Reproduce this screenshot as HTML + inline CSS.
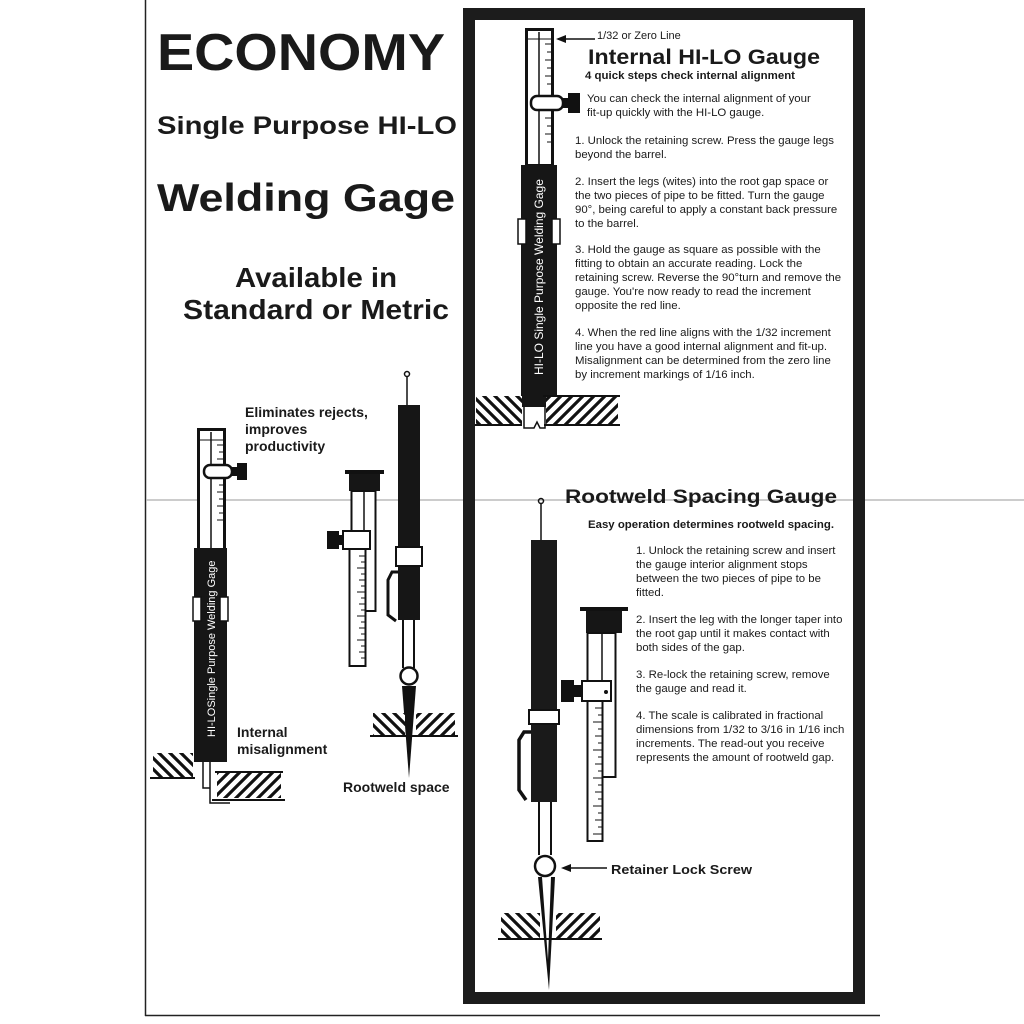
<!DOCTYPE html>
<html><head><style>
html,body{margin:0;padding:0;background:#fff}
svg{display:block}
text{font-family:"Liberation Sans",Arial,sans-serif;fill:#1a1a1a}
.b{font-weight:bold}
</style></head><body>
<svg width="1024" height="1024" viewBox="0 0 1024 1024" xmlns="http://www.w3.org/2000/svg">
<defs>
<pattern id="h1" width="11" height="11" patternUnits="userSpaceOnUse"><rect width="11" height="11" fill="#fff"/><path d="M-2,-2 L13,13 M-2,9 L2,13 M9,-2 L13,2" stroke="#111" stroke-width="3.2"/></pattern>
<pattern id="h2" width="11" height="11" patternUnits="userSpaceOnUse"><rect width="11" height="11" fill="#fff"/><path d="M-2,13 L13,-2 M-2,2 L2,-2 M9,13 L13,9" stroke="#111" stroke-width="3.2"/></pattern>
</defs>
<rect width="1024" height="1024" fill="#fff"/>
<line x1="145.5" y1="0" x2="145.5" y2="1016" stroke="#222" stroke-width="1.5"/>
<line x1="145" y1="1015.5" x2="880" y2="1015.5" stroke="#222" stroke-width="1.5"/>
<line x1="146" y1="500" x2="1024" y2="500" stroke="#bbb" stroke-width="1.5"/>
<rect x="469" y="14" width="390" height="984" fill="none" stroke="#1c1c1c" stroke-width="12"/>

<text x="157" y="70" font-size="52" class="b" textLength="288" lengthAdjust="spacingAndGlyphs">ECONOMY</text>
<text x="307" y="134" font-size="25" class="b" text-anchor="middle" textLength="300" lengthAdjust="spacingAndGlyphs">Single Purpose HI-LO</text>
<text x="306" y="211" font-size="39" class="b" text-anchor="middle" textLength="298" lengthAdjust="spacingAndGlyphs">Welding Gage</text>
<text x="316" y="287" font-size="28" class="b" text-anchor="middle" textLength="162" lengthAdjust="spacingAndGlyphs">Available in</text>
<text x="316" y="319" font-size="28" class="b" text-anchor="middle" textLength="266" lengthAdjust="spacingAndGlyphs">Standard or Metric</text>

<text x="245" y="417" font-size="14" class="b">Eliminates rejects,</text>
<text x="245" y="434" font-size="14" class="b">improves</text>
<text x="245" y="451" font-size="14" class="b">productivity</text>
<text x="237" y="737" font-size="14" class="b">Internal</text>
<text x="237" y="754" font-size="14" class="b">misalignment</text>
<text x="343" y="792" font-size="14" class="b">Rootweld space</text>

<rect x="198.5" y="429.5" width="26" height="120" fill="#fff" stroke="#111" stroke-width="3"/>
<line x1="211" y1="432" x2="211" y2="548" stroke="#111" stroke-width="1.5"/>
<line x1="200" y1="440" x2="223" y2="440" stroke="#111" stroke-width="1"/>
<g stroke="#111" stroke-width="1"><line x1="217" y1="445" x2="223" y2="445"/><line x1="219" y1="452" x2="223" y2="452"/><line x1="217" y1="459" x2="223" y2="459"/><line x1="219" y1="485" x2="223" y2="485"/><line x1="217" y1="492" x2="223" y2="492"/><line x1="219" y1="499" x2="223" y2="499"/><line x1="217" y1="506" x2="223" y2="506"/><line x1="219" y1="513" x2="223" y2="513"/><line x1="217" y1="520" x2="223" y2="520"/></g>
<rect x="204" y="465" width="28" height="13" rx="6" fill="#fff" stroke="#111" stroke-width="2.5"/>
<rect x="232" y="467" width="5" height="9" fill="#111"/>
<rect x="237" y="463" width="10" height="17" fill="#111"/>
<rect x="194" y="548" width="33" height="214" fill="#161616"/>
<rect x="193" y="597" width="8" height="24" fill="#fff" stroke="#111" stroke-width="1.5"/>
<rect x="220" y="597" width="8" height="24" fill="#fff" stroke="#111" stroke-width="1.5"/>
<text transform="translate(215,737) rotate(-90)" font-size="11" style="fill:#fff">HI-LOSingle Purpose Welding Gage</text>
<rect x="153" y="753" width="40" height="24" fill="url(#h1)"/>
<line x1="150" y1="778" x2="195" y2="778" stroke="#111" stroke-width="2"/>
<rect x="217" y="772" width="64" height="26" fill="url(#h2)"/>
<line x1="215" y1="772" x2="283" y2="772" stroke="#111" stroke-width="2"/>
<line x1="212" y1="800" x2="285" y2="800" stroke="#111" stroke-width="2"/>
<path d="M203 762 V788 H210 M210 762 V803 H230" fill="none" stroke="#111" stroke-width="1.5"/>

<rect x="345" y="470" width="39" height="4" fill="#111"/>
<rect x="349" y="474" width="31" height="17" fill="#161616"/>
<rect x="351.5" y="491" width="24" height="120" fill="#fff" stroke="#111" stroke-width="2"/>
<line x1="364" y1="491" x2="364" y2="610" stroke="#111" stroke-width="1.5"/>
<rect x="343" y="531" width="27" height="18" fill="#fff" stroke="#111" stroke-width="2"/>
<rect x="327" y="531" width="12" height="18" fill="#111"/><rect x="339" y="535" width="4" height="10" fill="#111"/>
<rect x="349.5" y="549" width="16" height="117" fill="#fff" stroke="#111" stroke-width="2"/>
<g stroke="#111" stroke-width="1"><line x1="359" y1="556" x2="365" y2="556"/><line x1="361" y1="562" x2="365" y2="562"/><line x1="357" y1="568" x2="365" y2="568"/><line x1="361" y1="574" x2="365" y2="574"/><line x1="359" y1="580" x2="365" y2="580"/><line x1="361" y1="586" x2="365" y2="586"/><line x1="357" y1="592" x2="365" y2="592"/><line x1="361" y1="598" x2="365" y2="598"/><line x1="359" y1="604" x2="365" y2="604"/><line x1="361" y1="610" x2="365" y2="610"/><line x1="357" y1="616" x2="365" y2="616"/><line x1="361" y1="622" x2="365" y2="622"/><line x1="359" y1="628" x2="365" y2="628"/><line x1="361" y1="634" x2="365" y2="634"/><line x1="357" y1="640" x2="365" y2="640"/><line x1="361" y1="646" x2="365" y2="646"/><line x1="359" y1="652" x2="365" y2="652"/><line x1="361" y1="658" x2="365" y2="658"/></g>

<line x1="407" y1="376" x2="407" y2="405" stroke="#111" stroke-width="1.5"/>
<circle cx="407" cy="374" r="2.5" fill="none" stroke="#111" stroke-width="1.5"/>
<rect x="398" y="405" width="22" height="215" fill="#161616"/>
<rect x="396" y="547" width="26" height="19" fill="#fff" stroke="#111" stroke-width="2"/>
<path d="M398 572 H392 L388 580 V615 L396 621" fill="none" stroke="#111" stroke-width="3"/>
<path d="M403 620 V668 M414 620 V668" stroke="#111" stroke-width="2"/>
<circle cx="409" cy="676" r="8.5" fill="#fff" stroke="#111" stroke-width="2.5"/>
<path d="M402 686 L409 778 L416 686 Z" fill="#111"/>
<rect x="373" y="713" width="32" height="22" fill="url(#h1)"/>
<rect x="416" y="713" width="39" height="22" fill="url(#h2)"/>
<line x1="370" y1="736" x2="458" y2="736" stroke="#111" stroke-width="2"/>

<rect x="526.5" y="29.5" width="26" height="136" fill="#fff" stroke="#111" stroke-width="3"/>
<line x1="539" y1="32" x2="539" y2="165" stroke="#111" stroke-width="1.5"/>
<line x1="528" y1="39" x2="551" y2="39" stroke="#111" stroke-width="1"/>
<g stroke="#111" stroke-width="1"><line x1="545" y1="44" x2="551" y2="44"/><line x1="547" y1="52" x2="551" y2="52"/><line x1="545" y1="60" x2="551" y2="60"/><line x1="547" y1="68" x2="551" y2="68"/><line x1="545" y1="76" x2="551" y2="76"/><line x1="547" y1="84" x2="551" y2="84"/><line x1="545" y1="118" x2="551" y2="118"/><line x1="547" y1="126" x2="551" y2="126"/><line x1="545" y1="134" x2="551" y2="134"/><line x1="547" y1="142" x2="551" y2="142"/></g>
<rect x="531" y="96" width="32" height="14" rx="6" fill="#fff" stroke="#111" stroke-width="2.5"/>
<rect x="563" y="98" width="5" height="10" fill="#111"/>
<rect x="568" y="93" width="12" height="20" fill="#111"/>
<line x1="558" y1="39" x2="595" y2="39" stroke="#111" stroke-width="1.5"/>
<path d="M556 39 L566 35 L566 43 Z" fill="#111"/>
<rect x="521" y="165" width="36" height="242" fill="#161616"/>
<rect x="518" y="219" width="8" height="25" fill="#fff" stroke="#111" stroke-width="1.5"/>
<rect x="552" y="219" width="8" height="25" fill="#fff" stroke="#111" stroke-width="1.5"/>
<text transform="translate(543,375) rotate(-90)" font-size="12" style="fill:#fff">HI-LO Single Purpose Welding Gage</text>
<rect x="476" y="396" width="46" height="28" fill="url(#h1)"/>
<rect x="546" y="396" width="72" height="28" fill="url(#h2)"/>
<line x1="543" y1="396" x2="620" y2="396" stroke="#111" stroke-width="2"/>
<line x1="475" y1="425" x2="522" y2="425" stroke="#111" stroke-width="2"/>
<line x1="544" y1="425" x2="620" y2="425" stroke="#111" stroke-width="2"/>
<path d="M524 407 V428 H534 L537 422 L540 428 H545 V407" fill="none" stroke="#111" stroke-width="1.5"/>

<text x="597" y="39" font-size="11">1/32 or Zero Line</text>
<text x="588" y="64" font-size="21" class="b" textLength="232" lengthAdjust="spacingAndGlyphs">Internal HI-LO Gauge</text>
<text x="585" y="79" font-size="11" class="b" textLength="210" lengthAdjust="spacingAndGlyphs">4 quick steps check internal alignment</text>
<g font-size="11.4">
<text x="587" y="102">You can check the internal alignment of your</text>
<text x="587" y="116">fit-up quickly with the HI-LO gauge.</text>
<text x="575" y="144">1.  Unlock the retaining screw. Press the gauge legs</text>
<text x="575" y="158">beyond the barrel.</text>
<text x="575" y="185">2.  Insert the legs (wites) into the root gap space or</text>
<text x="575" y="199">the two pieces of pipe to be fitted. Turn the gauge</text>
<text x="575" y="213">90°, being careful to apply a constant back pressure</text>
<text x="575" y="227">to the barrel.</text>
<text x="575" y="253">3.  Hold the gauge as square as possible with the</text>
<text x="575" y="267">fitting to obtain an accurate reading. Lock the</text>
<text x="575" y="281">retaining screw. Reverse the 90°turn and remove the</text>
<text x="575" y="295">gauge. You're now ready to read the increment</text>
<text x="575" y="309">opposite the red line.</text>
<text x="575" y="336">4.  When the red line aligns with the 1/32 increment</text>
<text x="575" y="350">line you have a good internal alignment and fit-up.</text>
<text x="575" y="364">Misalignment can be  determined from the zero line</text>
<text x="575" y="378">by increment markings of 1/16 inch.</text>
</g>

<text x="565" y="503" font-size="19" class="b" textLength="272" lengthAdjust="spacingAndGlyphs">Rootweld Spacing Gauge</text>
<text x="588" y="528" font-size="11" class="b" textLength="246" lengthAdjust="spacingAndGlyphs">Easy operation determines rootweld spacing.</text>
<g font-size="11.4">
<text x="636" y="554">1.  Unlock the retaining screw and insert</text>
<text x="636" y="568">the gauge interior alignment stops</text>
<text x="636" y="582">between the two pieces of pipe to be</text>
<text x="636" y="596">fitted.</text>
<text x="636" y="623">2.  Insert the leg with the longer taper into</text>
<text x="636" y="637">the root gap until it makes contact with</text>
<text x="636" y="651">both sides of the gap.</text>
<text x="636" y="678">3.  Re-lock the retaining screw, remove</text>
<text x="636" y="692">the gauge and read it.</text>
<text x="636" y="719">4.  The scale is calibrated in fractional</text>
<text x="636" y="733">dimensions from 1/32 to 3/16 in 1/16 inch</text>
<text x="636" y="747">increments. The read-out you receive</text>
<text x="636" y="761">represents the amount of rootweld gap.</text>
</g>
<text x="611" y="874" font-size="13" class="b" textLength="141" lengthAdjust="spacingAndGlyphs">Retainer Lock Screw</text>
<line x1="566" y1="868" x2="607" y2="868" stroke="#111" stroke-width="1.5"/>
<path d="M561 868 L571 864 L571 872 Z" fill="#111"/>

<line x1="541" y1="503" x2="541" y2="540" stroke="#111" stroke-width="1.5"/>
<circle cx="541" cy="501" r="2.5" fill="none" stroke="#111" stroke-width="1.5"/>
<rect x="531" y="540" width="26" height="262" fill="#1a1a1a"/>
<rect x="529" y="710" width="30" height="14" fill="#fff" stroke="#111" stroke-width="2"/>
<path d="M531 732 H524 L519 740 V790 L526 800" fill="none" stroke="#111" stroke-width="3.5"/>
<path d="M539 802 V855 M551 802 V855" stroke="#111" stroke-width="2"/>
<circle cx="545" cy="866" r="10" fill="#fff" stroke="#111" stroke-width="2.5"/>
<path d="M538 877 L549 990 L555 877 L551 877 L548 960 L542 877 Z" fill="#111"/>
<rect x="501" y="913" width="39" height="25" fill="url(#h1)"/>
<rect x="556" y="913" width="44" height="25" fill="url(#h2)"/>
<line x1="498" y1="939" x2="602" y2="939" stroke="#111" stroke-width="2"/>

<rect x="580" y="607" width="48" height="4" fill="#111"/>
<rect x="586" y="611" width="36" height="22" fill="#161616"/>
<rect x="587.5" y="633" width="28" height="144" fill="#fff" stroke="#111" stroke-width="2"/>
<line x1="602" y1="633" x2="602" y2="776" stroke="#111" stroke-width="1.5"/>
<rect x="582" y="681" width="29" height="20" fill="#fff" stroke="#111" stroke-width="2"/>
<circle cx="606" cy="692" r="2" fill="#111"/>
<rect x="561" y="680" width="13" height="22" fill="#111"/><rect x="574" y="685" width="8" height="12" fill="#111"/>
<rect x="587.5" y="701" width="15" height="140" fill="#fff" stroke="#111" stroke-width="2"/>
<g stroke="#111" stroke-width="1"><line x1="595" y1="708" x2="602" y2="708"/><line x1="598" y1="715" x2="602" y2="715"/><line x1="593" y1="722" x2="602" y2="722"/><line x1="598" y1="729" x2="602" y2="729"/><line x1="595" y1="736" x2="602" y2="736"/><line x1="598" y1="743" x2="602" y2="743"/><line x1="593" y1="750" x2="602" y2="750"/><line x1="598" y1="757" x2="602" y2="757"/><line x1="595" y1="764" x2="602" y2="764"/><line x1="598" y1="771" x2="602" y2="771"/><line x1="593" y1="778" x2="602" y2="778"/><line x1="598" y1="785" x2="602" y2="785"/><line x1="595" y1="792" x2="602" y2="792"/><line x1="598" y1="799" x2="602" y2="799"/><line x1="593" y1="806" x2="602" y2="806"/><line x1="598" y1="813" x2="602" y2="813"/><line x1="595" y1="820" x2="602" y2="820"/><line x1="598" y1="827" x2="602" y2="827"/><line x1="593" y1="834" x2="602" y2="834"/></g>
</svg>
</body></html>
